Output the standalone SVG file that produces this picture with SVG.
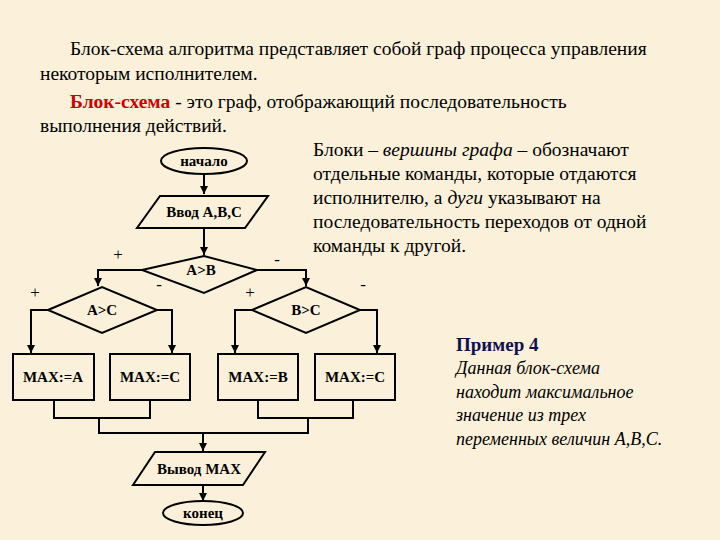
<svg xmlns="http://www.w3.org/2000/svg" width="720" height="540" viewBox="0 0 720 540">
<defs>
<marker id="ah" viewBox="0 0 10 10" refX="10" refY="5" markerWidth="4" markerHeight="4" orient="auto"><path d="M0,0L10,5L0,10z" fill="#000"/></marker>
<style>
text{font-family:"Liberation Serif","Times New Roman","DejaVu Serif",serif}
.t{font-size:19.5px;fill:#000}
.n{fill:none;stroke:#000;stroke-width:2}
.l{font-size:15px;font-weight:bold;text-anchor:middle}
.c{fill:none;stroke:#000;stroke-width:2}
.s{font-size:17px}
.e{font-size:18px;font-style:italic}
</style>
</defs>
<rect width="720" height="540" fill="#FBF1DA"/>
<text class="t" x="70" y="55">Блок-схема алгоритма представляет собой граф процесса управления</text>
<text class="t" x="40" y="80">некоторым исполнителем.</text>
<text class="t" x="70" y="108"><tspan fill="#D00000" font-weight="bold">Блок-схема</tspan>  - это граф, отображающий последовательность</text>
<text class="t" x="40" y="132">выполнения действий.</text>
<text class="t" x="313" y="156">Блоки – <tspan font-style="italic">вершины графа</tspan> – обозначают</text>
<text class="t" x="313" y="180">отдельные команды, которые отдаются</text>
<text class="t" x="313" y="204">исполнителю, а <tspan font-style="italic">дуги</tspan> указывают на</text>
<text class="t" x="313" y="228">последовательность переходов от одной</text>
<text class="t" x="313" y="252">команды к другой.</text>
<text x="456" y="351" font-size="19" font-weight="bold" fill="#101050">Пример 4</text>
<text class="e" x="456" y="374">Данная блок-схема</text>
<text class="e" x="456" y="398">находит максимальное</text>
<text class="e" x="456" y="421">значение из трех</text>
<text class="e" x="456" y="445">переменных величин А,В,С.</text>
<g id="connectors">
<path class="c" d="M204,174V194" marker-end="url(#ah)"/>
<path class="c" d="M204,228V255" marker-end="url(#ah)"/>
<path class="c" d="M142,270H98V286" marker-end="url(#ah)"/>
<path class="c" d="M257,270H306V286" marker-end="url(#ah)"/>
<path class="c" d="M48,310H31V353" marker-end="url(#ah)"/>
<path class="c" d="M157,310H172V353" marker-end="url(#ah)"/>
<path class="c" d="M252,310H235V353" marker-end="url(#ah)"/>
<path class="c" d="M360,310H377V353" marker-end="url(#ah)"/>
<path class="c" d="M54,400V418H150V400M99,418V433H308V418M258,400V418H353V400"/>
<path class="c" d="M203,433V451" marker-end="url(#ah)"/>
<path class="c" d="M203,485V501" marker-end="url(#ah)"/>
<text class="s" x="118" y="260" text-anchor="middle">+</text>
<text class="s" x="277" y="265" text-anchor="middle">-</text>
<text class="s" x="35" y="298" text-anchor="middle">+</text>
<text class="s" x="159" y="290" text-anchor="middle">-</text>
<text class="s" x="250" y="298" text-anchor="middle">+</text>
<text class="s" x="363" y="290" text-anchor="middle">-</text>
</g>
<g id="start"><ellipse class="n" cx="204" cy="161" rx="43" ry="13"/><text class="l" x="204" y="166">начало</text></g>
<g id="input"><polygon class="n" points="160,196 268,196 245,228 137,228"/><text class="l" x="204" y="217">Ввод А,В,С</text></g>
<g id="ab"><polygon class="n" points="142,270 204,256 257,270 204,293"/><text class="l" x="201" y="275">А&gt;В</text></g>
<g id="ac"><polygon class="n" points="48,310 102,287 157,310 102,333"/><text class="l" x="102" y="315">А&gt;С</text></g>
<g id="bc"><polygon class="n" points="252,310 306,287 360,310 306,333"/><text class="l" x="306" y="315">В&gt;С</text></g>
<g id="m1"><rect class="n" x="13" y="354" width="81" height="46"/><text class="l" x="53" y="382">MAX:=A</text></g>
<g id="m2"><rect class="n" x="110" y="354" width="80" height="46"/><text class="l" x="150" y="382">MAX:=C</text></g>
<g id="m3"><rect class="n" x="218" y="354" width="80" height="46"/><text class="l" x="258" y="382">MAX:=B</text></g>
<g id="m4"><rect class="n" x="315" y="354" width="80" height="46"/><text class="l" x="355" y="382">MAX:=C</text></g>
<g id="output"><polygon class="n" points="155,452 265,452 243,485 133,485"/><text class="l" x="199" y="474">Вывод МАХ</text></g>
<g id="end"><ellipse class="n" cx="203" cy="513" rx="40" ry="12"/><text class="l" x="203" y="518">конец</text></g>
</svg>
